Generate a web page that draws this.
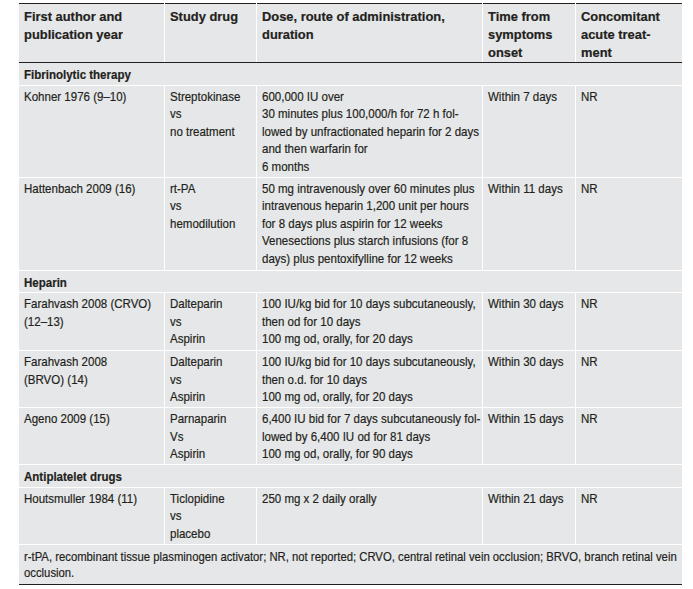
<!DOCTYPE html>
<html>
<head>
<meta charset="utf-8">
<script src="https://cdn.jsdelivr.net/npm/chart.js@4.4.1/dist/chart.umd.min.js"></script>
<style>
  html, body { margin: 0; padding: 0; background: #ffffff; }
  body { width: 693px; height: 589px; position: relative; overflow: hidden; }
  #tbl {
    position: absolute; left: 19px; top: 3px; width: 663px;
    border-collapse: collapse; table-layout: fixed;
    background: #e6e7e8; color: #231f20;
    font-family: "Liberation Sans", Arial, sans-serif;
    font-size: 13.3px; line-height: 17.5px;
    -webkit-text-stroke: 0.2px #231f20;
  }
  #tbl td, #tbl th {
    vertical-align: top; text-align: left; padding: 2px 0 0 5px;
    border: 1.5px solid #ffffff; white-space: nowrap;
  }
  #tbl th { font-weight: bold; line-height: 18px; padding-top: 4px; }
  #tbl tr.hdr th { border-top: 1.5px solid #231f20; border-bottom: 1.5px solid #231f20; }
  #tbl tr.grp td { font-weight: bold; padding-top: 3px; }
  #tbl tr.foot td { border-top: 1.5px solid #231f20; border-bottom: 1.5px solid #231f20; line-height: 16.5px; padding-top: 4px; }
  #tbl tr > *:first-child { border-left: none; }
  #tbl tr > *:last-child { border-right: none; }
  .ln { display: block; height: 17.5px; }
  .ln span { display: inline-block; transform: scaleX(0.866); transform-origin: 0 50%; }
  th .ln { height: 18px; }
  th .ln span { transform: scaleX(0.97); }
  .foot .ln { height: 16.5px; }
  .foot .ln span { transform: scaleX(0.85); }
</style>
</head>
<body>
<table id="tbl"></table>
<script>
// Table content
const columnHeaders = [
  ["First author and", "publication year"],
  ["Study drug"],
  ["Dose, route of administration,", "duration"],
  ["Time from", "symptoms", "onset"],
  ["Concomitant", "acute treat-", "ment"]
];
const columnWidths = [145, 92, 226, 93, 107];

const groups = ["Fibrinolytic therapy", "Heparin", "Antiplatelet drugs"];

const authors = [
  ["Kohner 1976 (9–10)"],
  ["Hattenbach 2009 (16)"],
  ["Farahvash 2008 (CRVO)", "(12–13)"],
  ["Farahvash 2008", "(BRVO) (14)"],
  ["Ageno 2009 (15)"],
  ["Houtsmuller 1984 (11)"]
];
const drugs = [
  ["Streptokinase", "vs", "no treatment"],
  ["rt-PA", "vs", "hemodilution"],
  ["Dalteparin", "vs", "Aspirin"],
  ["Dalteparin", "vs", "Aspirin"],
  ["Parnaparin", "Vs", "Aspirin"],
  ["Ticlopidine", "vs", "placebo"]
];
const doses = [
  ["600,000 IU over", "30 minutes plus 100,000/h for 72 h fol-", "lowed by unfractionated heparin for 2 days", "and then warfarin for", "6 months"],
  ["50 mg intravenously over 60 minutes plus", "intravenous heparin 1,200 unit per hours", "for 8 days plus aspirin for 12 weeks", "Venesections plus starch infusions (for 8", "days) plus pentoxifylline for 12 weeks"],
  ["100 IU/kg bid for 10 days subcutaneously,", "then od for 10 days", "100 mg od, orally, for 20 days"],
  ["100 IU/kg bid for 10 days subcutaneously,", "then o.d. for 10 days", "100 mg od, orally, for 20 days"],
  ["6,400 IU bid for 7 days subcutaneously fol-", "lowed by 6,400 IU od for 81 days", "100 mg od, orally, for 90 days"],
  ["250 mg x 2 daily orally"]
];
const timeFromOnset = ["Within 7 days", "Within 11 days", "Within 30 days", "Within 30 days", "Within 15 days", "Within 21 days"];
const concomitant = ["NR", "NR", "NR", "NR", "NR", "NR"];
const studyGroup = [0, 0, 1, 1, 1, 2];
const footnoteLines = ["r-tPA, recombinant tissue plasminogen activator; NR, not reported; CRVO, central retinal vein occlusion; BRVO, branch retinal vein", "occlusion."];

// Layout (row heights in px)
const headerHeight = 58;
const groupRowHeight = 22.5;
const studyRowHeights = [92, 93, 58, 57, 57, 57];
const footHeight = 40;

const tbl = document.getElementById('tbl');
const cg = document.createElement('colgroup');
columnWidths.forEach(w => { const c = document.createElement('col'); c.style.width = w + 'px'; cg.appendChild(c); });
tbl.appendChild(cg);

function fill(cell, arr) {
  arr.forEach(t => {
    const d = document.createElement('div'); d.className = 'ln';
    const s = document.createElement('span'); s.textContent = t;
    d.appendChild(s); cell.appendChild(d);
  });
}

const hr = document.createElement('tr'); hr.className = 'hdr'; hr.style.height = headerHeight + 'px';
columnHeaders.forEach(h => { const th = document.createElement('th'); fill(th, h); hr.appendChild(th); });
tbl.appendChild(hr);

let lastGroup = -1;
authors.forEach((a, i) => {
  if (studyGroup[i] !== lastGroup) {
    lastGroup = studyGroup[i];
    const gr = document.createElement('tr'); gr.className = 'grp'; gr.style.height = groupRowHeight + 'px';
    const td = document.createElement('td'); td.colSpan = 5; fill(td, [groups[lastGroup]]);
    gr.appendChild(td); tbl.appendChild(gr);
  }
  const tr = document.createElement('tr'); tr.style.height = studyRowHeights[i] + 'px';
  [a, drugs[i], doses[i], [timeFromOnset[i]], [concomitant[i]]].forEach(cell => {
    const td = document.createElement('td'); fill(td, cell); tr.appendChild(td);
  });
  tbl.appendChild(tr);
});

const fr = document.createElement('tr'); fr.className = 'foot'; fr.style.height = footHeight + 'px';
const ftd = document.createElement('td'); ftd.colSpan = 5; fill(ftd, footnoteLines);
fr.appendChild(ftd); tbl.appendChild(fr);
</script>
</body>
</html>
